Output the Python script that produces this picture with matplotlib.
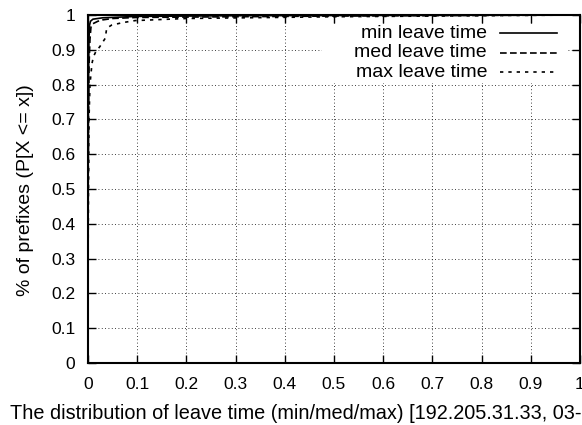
import numpy as np
import matplotlib.pyplot as plt
from matplotlib.patches import Rectangle

plt.rcParams['font.family'] = ['Liberation Sans', 'DejaVu Sans']

# CDF of leave time
min_x = [0, 0, 0.0005, 0.001, 0.002, 0.003, 0.005, 0.01, 0.03, 0.1, 0.3, 1.0]
min_y = [0, 0.35, 0.6, 0.8, 0.93, 0.97, 0.982, 0.988, 0.992, 0.996, 0.998, 1.0]

med_x = [0, 0, 0.001, 0.002, 0.004, 0.006, 0.01, 0.02, 0.03, 0.05, 0.1, 0.5, 1.0]
med_y = [0, 0.3, 0.7, 0.85, 0.93, 0.965, 0.975, 0.982, 0.986, 0.99, 0.993, 0.997, 1.0]

max_x = [0, 0, 0.001, 0.002, 0.004, 0.008, 0.011, 0.016, 0.024, 0.035, 0.038,
         0.048, 0.07, 0.096, 0.2, 0.5, 1.0]
max_y = [0, 0.27, 0.5, 0.7, 0.8, 0.86, 0.88, 0.895, 0.909, 0.933, 0.962,
         0.971, 0.978, 0.984, 0.99, 0.995, 1.0]

labels = ['min leave time', 'med leave time', 'max leave time']
xticks = np.arange(0, 1.01, 0.1)
yticks = np.arange(0, 1.01, 0.1)
xticklabels = ['0', '0.1', '0.2', '0.3', '0.4', '0.5', '0.6', '0.7', '0.8', '0.9', '1']
yticklabels = ['0', '0.1', '0.2', '0.3', '0.4', '0.5', '0.6', '0.7', '0.8', '0.9', '1']

fig = plt.figure(figsize=(5.82, 4.25), dpi=100)
ax = fig.add_axes([88 / 582, 1 - 363 / 425, (580 - 88) / 582, (363 - 15) / 425])

styles = ['-', (0, (4, 2)), (0, (2, 3))]
series = [(min_x, min_y), (med_x, med_y), (max_x, max_y)]
for (xs, ys), ls in zip(series, styles):
    ax.plot(xs, ys, color='black', lw=1.2, ls=ls)

ax.set_xlim(0, 1)
ax.set_ylim(0, 1)
ax.set_xticks(xticks)
ax.set_xticklabels(xticklabels)
ax.set_yticks(yticks)
ax.set_yticklabels(yticklabels)
ax.tick_params(direction='in', length=6, width=1, top=True, right=True, labelsize=12.5)
ax.tick_params(axis='x', pad=10)
ax.tick_params(axis='y', pad=9)
ax.grid(True, color='black', ls=(0, (1, 3)), lw=0.6)
for s in ax.spines.values():
    s.set_linewidth(1.5)
    s.set_zorder(5)

ax.set_ylabel('% of prefixes (P[X <= x])', fontsize=14)
ax.yaxis.set_label_coords(-0.11, 0.497)
fig.text(10 / 582, 1 - 419 / 425, 'The distribution of leave time (min/med/max) [192.205.31.33, 03-2003]',
         ha='left', va='baseline', fontsize=14.3)

# gnuplot-style key: white box, text right-aligned, sample on the right
ax.add_patch(Rectangle((0.476, 0.805), 0.5, 0.17, transform=ax.transAxes,
                       facecolor='white', edgecolor='none', zorder=3))
rows = [0.948, 0.891, 0.836]
for lab, ls, yr in zip(labels, styles, rows):
    ax.text(0.811, yr, lab, transform=ax.transAxes, ha='right', va='center',
            fontsize=14, zorder=4)
    ax.plot([0.837, 0.953], [yr, yr], transform=ax.transAxes, color='black',
            lw=1.2, ls=ls, zorder=4)

fig.savefig('out.png', dpi=100)
